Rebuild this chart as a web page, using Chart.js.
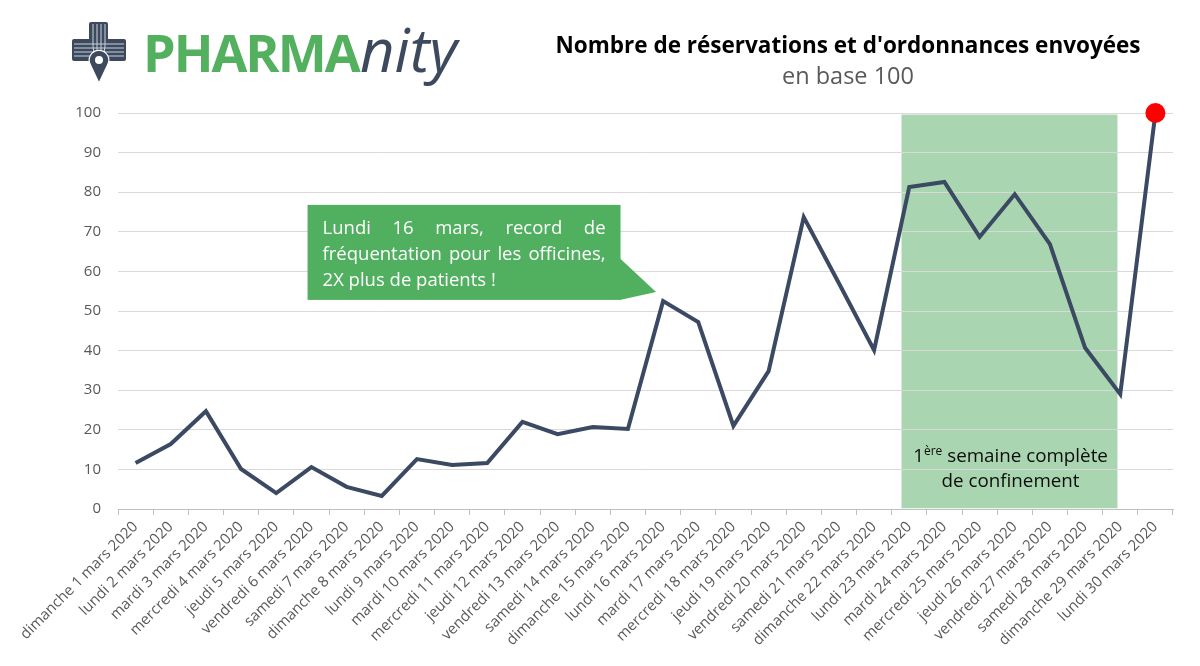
<!DOCTYPE html>
<html>
<head>
<meta charset="utf-8">
<script src="https://cdn.jsdelivr.net/npm/chart.js@4/dist/chart.umd.min.js"></script>
<style>
  html, body { margin: 0; padding: 0; background: #fff; }
  #wrap { position: relative; width: 1200px; height: 666px; }
  #chart { position: absolute; left: 0; top: 0; }
  .logo { position: absolute; left: 65px; top: 16px; }
  .brand { position: absolute; font-family: "Open Sans", sans-serif; white-space: nowrap; }
  .b1 { left: 143px; top: 26px; font-size: 52px; line-height: 52px; color: #52b05e; font-weight: 700; letter-spacing: -2px; }
  .b2 { left: 360px; top: 19px; font-size: 60px; line-height: 60px; color: #3d4a5e; font-style: italic; font-weight: 400; }
  .title { position: absolute; left: 500px; width: 696px; text-align: center; font-family: "Open Sans", sans-serif; line-height: 30px; }
  .t1 { top: 30px; font-size: 22.5px; font-weight: 700; color: #000; }
  .t2 { top: 60px; font-size: 23.5px; color: #595959; }
</style>
</head>
<body>
<div id="wrap">
  <canvas id="chart" width="1200" height="666"></canvas>
  <svg class="logo" width="70" height="75" viewBox="0 0 70 75">
    <rect x="24" y="6" width="19" height="40" rx="2" fill="#3d4a5e"/>
    <rect x="7" y="23" width="54" height="22" rx="2" fill="#3d4a5e"/>
    <g stroke="#c9d1dc" stroke-width="1" fill="none">
      <path d="M28 8 V30 Q28 36 31 40"/><path d="M32 8 V40"/><path d="M36 8 V40"/><path d="M40 8 V30 Q40 36 37 40"/>
      <path d="M9 28 H59"/><path d="M9 32 H59"/><path d="M9 36 H59"/><path d="M9 40 H59"/>
    </g>
    <path d="M34 67 L25.5 49 A9.8 9.8 0 1 1 42.5 49 Z" fill="#3d4a5e" stroke="#fff" stroke-width="1.2"/>
    <circle cx="34" cy="44" r="4" fill="#fff"/>
  </svg>
  <div class="brand b1">PHARMA</div>
  <div class="brand b2">nity</div>
  <div class="title t1">Nombre de réservations et d'ordonnances envoyées</div>
  <div class="title t2">en base 100</div>
</div>
<script>
var labels = [
  'dimanche 1 mars 2020', 'lundi 2 mars 2020', 'mardi 3 mars 2020', 'mercredi 4 mars 2020',
  'jeudi 5 mars 2020', 'vendredi 6 mars 2020', 'samedi 7 mars 2020', 'dimanche 8 mars 2020',
  'lundi 9 mars 2020', 'mardi 10 mars 2020', 'mercredi 11 mars 2020', 'jeudi 12 mars 2020',
  'vendredi 13 mars 2020', 'samedi 14 mars 2020', 'dimanche 15 mars 2020', 'lundi 16 mars 2020',
  'mardi 17 mars 2020', 'mercredi 18 mars 2020', 'jeudi 19 mars 2020', 'vendredi 20 mars 2020',
  'samedi 21 mars 2020', 'dimanche 22 mars 2020', 'lundi 23 mars 2020', 'mardi 24 mars 2020',
  'mercredi 25 mars 2020', 'jeudi 26 mars 2020', 'vendredi 27 mars 2020', 'samedi 28 mars 2020',
  'dimanche 29 mars 2020', 'lundi 30 mars 2020'
];
var values = [
  11.6, 16.4, 24.7, 10.1, 4.0, 10.6, 5.6, 3.3, 12.6, 11.1,
  11.6, 22.0, 18.9, 20.7, 20.2, 52.5, 47.2, 21.0, 34.8, 73.7,
  57.0, 40.1, 81.3, 82.6, 68.7, 79.5, 66.9, 40.7, 29.0, 100
];
var yTicks = [0, 10, 20, 30, 40, 50, 60, 70, 80, 90, 100];
var calloutLines = ['Lundi 16 mars, record de', 'fréquentation pour les officines,', '2X plus de patients !'];
var bandLines = ['semaine complète', 'de confinement'];

var FONT = '"Open Sans", sans-serif';

// draws the full-week shaded band, the callout and the band caption
var overlay = {
  id: 'overlay',
  beforeDraw: function (chart) {
    var ctx = chart.ctx, x = chart.scales.x, y = chart.scales.y;
    var l = x.getPixelForValue(21.78), r = x.getPixelForValue(27.92);
    var t = y.getPixelForValue(99.6), b = y.getPixelForValue(0.2);
    ctx.save();
    ctx.fillStyle = '#a9d6b0';
    ctx.fillRect(l, t, r - l, b - t);
    ctx.restore();
  },
  afterDatasetsDraw: function (chart) {
    var ctx = chart.ctx, x = chart.scales.x, y = chart.scales.y;
    ctx.save();

    // callout box
    var bl = x.getPixelForValue(4.89), br = x.getPixelForValue(13.79);
    var bt = y.getPixelForValue(76.8), bb = y.getPixelForValue(52.8);
    ctx.fillStyle = '#50b060';
    ctx.fillRect(bl, bt, br - bl, bb - bt);
    ctx.beginPath();
    ctx.moveTo(br - 1, y.getPixelForValue(63.4));
    ctx.lineTo(x.getPixelForValue(14.8), y.getPixelForValue(54.8));
    ctx.lineTo(br - 1, bb);
    ctx.closePath();
    ctx.fill();

    ctx.fillStyle = '#fff';
    ctx.font = '18.5px ' + FONT;
    ctx.textBaseline = 'alphabetic';
    var pad = 15, lh = 26, base = bt + 29;
    for (var i = 0; i < calloutLines.length; i++) {
      var words = calloutLines[i].split(' ');
      var lx = bl + pad, w = br - bl - 2 * pad;
      if (i < calloutLines.length - 1) {
        var sum = 0;
        words.forEach(function (wd) { sum += ctx.measureText(wd).width; });
        var gap = (w - sum) / (words.length - 1);
        words.forEach(function (wd) {
          ctx.fillText(wd, lx, base + i * lh);
          lx += ctx.measureText(wd).width + gap;
        });
      } else {
        ctx.fillText(calloutLines[i], lx, base + i * lh);
      }
    }

    // band caption with superscript
    var cx = x.getPixelForValue(24.88);
    var y1 = y.getPixelForValue(11.9), y2 = y.getPixelForValue(5.6);
    var big = '18.8px ' + FONT, small = '12px ' + FONT;
    ctx.fillStyle = '#0d0d0d';
    ctx.font = big;
    var wOne = ctx.measureText('1').width;
    ctx.font = small;
    var wSup = ctx.measureText('ère').width;
    ctx.font = big;
    var wRest = ctx.measureText(' ' + bandLines[0]).width;
    var sx = cx - (wOne + wSup + wRest) / 2;
    ctx.textAlign = 'left';
    ctx.fillText('1', sx, y1);
    ctx.font = small;
    ctx.fillText('ère', sx + wOne, y1 - 7);
    ctx.font = big;
    ctx.fillText(' ' + bandLines[0], sx + wOne + wSup, y1);
    ctx.textAlign = 'center';
    ctx.fillText(bandLines[1], cx, y2);
    ctx.restore();
  }
};

var pointRadius = values.map(function (v, i) { return i === values.length - 1 ? 10 : 0; });

new Chart(document.getElementById('chart'), {
  type: 'line',
  data: {
    labels: labels,
    datasets: [{
      data: values,
      borderColor: '#3b4962',
      borderWidth: 4,
      borderJoinStyle: 'miter',
      tension: 0,
      pointRadius: pointRadius,
      pointHoverRadius: pointRadius,
      pointBackgroundColor: '#ff0000',
      pointBorderColor: '#ff0000',
      pointBorderWidth: 0,
      clip: false
    }]
  },
  options: {
    responsive: false,
    animation: false,
    layout: { padding: { top: 113, right: 27, left: 0, bottom: 0 } },
    plugins: { legend: { display: false }, tooltip: { enabled: false } },
    scales: {
      x: {
        offset: true,
        grid: { drawOnChartArea: false, drawTicks: true, tickLength: 6, color: '#bfbfbf', offset: true },
        border: { color: '#bfbfbf', width: 1 },
        ticks: {
          autoSkip: false, maxRotation: 45, minRotation: 45, padding: 3,
          color: '#595959', font: { family: FONT, size: 15 }
        },
        afterFit: function (s) { s.height = 157; }
      },
      y: {
        min: 0, max: 100,
        afterBuildTicks: function (s) { s.ticks = yTicks.map(function (v) { return { value: v }; }); },
        grid: { color: '#d9d9d9', lineWidth: 1, drawTicks: false },
        border: { display: false },
        ticks: { padding: 17, color: '#595959', font: { family: FONT, size: 15 } },
        afterFit: function (s) { s.width = 118; }
      }
    }
  },
  plugins: [overlay]
});
</script>
</body>
</html>
